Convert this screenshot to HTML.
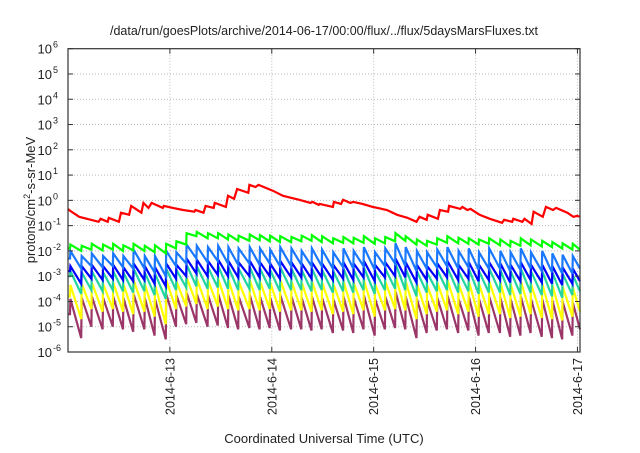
<!DOCTYPE html>
<html><head><meta charset="utf-8"><style>
body{margin:0;background:#fff}
svg text{font-family:"Liberation Sans",sans-serif;fill:#222}
</style></head><body>
<svg id="chart" width="640" height="448" viewBox="0 0 640 448" xmlns="http://www.w3.org/2000/svg">
<text x="324" y="35" font-size="12.5" text-anchor="middle">/data/run/goesPlots/archive/2014-06-17/00:00/flux/../flux/5daysMarsFluxes.txt</text>
<text transform="translate(35,200) rotate(-90)" font-size="13" text-anchor="middle">protons/cm<tspan dy="-5" font-size="9">2</tspan><tspan dy="5">-s-sr-MeV</tspan></text>
<text x="324" y="443" font-size="13" text-anchor="middle">Coordinated Universal Time (UTC)</text>
<g id="grid"></g>
<g id="series"></g>
<rect x="68" y="48.7" width="512" height="303.3" fill="none" stroke="#333" stroke-width="1.2"/>
<g id="axes"></g>
</svg>
<script>
const xTickDays=[1,2,3,4,5];
const xTickLabels=["2014-6-13","2014-6-14","2014-6-15","2014-6-16","2014-6-17"];
const yTickExps=[6,5,4,3,2,1,0,-1,-2,-3,-4,-5,-6];
const redTimes=[0,0.01,0.11,0.30,0.32,0.39,0.40,0.50,0.52,0.60,0.62,0.72,0.74,0.79,0.82,0.93,0.94,1.03,1.13,1.24,1.25,1.33,1.35,1.43,1.44,1.55,1.57,1.63,1.66,1.77,1.78,1.84,1.87,2.01,2.11,2.27,2.38,2.40,2.46,2.47,2.60,2.61,2.68,2.70,2.77,2.80,2.89,2.99,3.13,3.23,3.33,3.42,3.45,3.52,3.53,3.63,3.65,3.73,3.74,3.85,3.87,3.92,3.95,4.04,4.14,4.26,4.28,4.36,4.37,4.46,4.48,4.55,4.57,4.66,4.69,4.76,4.79,4.90,4.96,5.00,5.02];
const redValues=[-0.34,-0.38,-0.65,-0.85,-0.73,-0.85,-0.69,-0.85,-0.49,-0.57,-0.22,-0.49,-0.10,-0.30,-0.10,-0.30,-0.22,-0.30,-0.38,-0.45,-0.38,-0.49,-0.22,-0.30,-0.10,-0.26,0.18,0.06,0.45,0.30,0.61,0.53,0.61,0.38,0.18,0.02,-0.10,-0.06,-0.18,-0.14,-0.26,-0.06,-0.14,0.02,-0.10,-0.06,-0.14,-0.26,-0.38,-0.57,-0.69,-0.85,-0.65,-0.77,-0.57,-0.73,-0.38,-0.45,-0.22,-0.34,-0.26,-0.38,-0.34,-0.57,-0.73,-0.89,-0.77,-0.85,-0.73,-0.85,-0.73,-0.93,-0.45,-0.65,-0.26,-0.38,-0.30,-0.49,-0.65,-0.61,-0.65];
const toothTimes=[0.02,0.13,0.23,0.34,0.44,0.54,0.64,0.75,0.85,0.96,1.06,1.16,1.26,1.37,1.47,1.57,1.67,1.78,1.88,1.98,2.08,2.19,2.29,2.39,2.49,2.60,2.70,2.80,2.90,3.01,3.11,3.21,3.31,3.42,3.52,3.62,3.72,3.83,3.93,4.03,4.13,4.24,4.34,4.44,4.54,4.65,4.75,4.85,4.95];
const greenStart=-1.9;
const greenPeaks=[-1.75,-1.8,-1.72,-1.75,-1.72,-1.78,-1.72,-1.8,-1.78,-1.72,-1.62,-1.3,-1.25,-1.3,-1.3,-1.35,-1.4,-1.35,-1.38,-1.4,-1.42,-1.45,-1.4,-1.38,-1.42,-1.5,-1.45,-1.48,-1.42,-1.5,-1.45,-1.3,-1.42,-1.55,-1.6,-1.5,-1.42,-1.48,-1.5,-1.55,-1.5,-1.55,-1.6,-1.5,-1.55,-1.6,-1.65,-1.7,-1.72];
const greenTroughs=[-2.0,-1.95,-1.98,-1.95,-2.0,-1.98,-2.0,-2.05,-2.1,-1.9,-1.75,-1.42,-1.5,-1.5,-1.55,-1.6,-1.6,-1.58,-1.62,-1.65,-1.65,-1.62,-1.6,-1.65,-1.7,-1.68,-1.7,-1.68,-1.72,-1.7,-1.62,-1.6,-1.75,-1.8,-1.75,-1.68,-1.7,-1.72,-1.75,-1.72,-1.78,-1.82,-1.8,-1.78,-1.82,-1.85,-1.9,-1.95,-1.95];
const lblueStart=-2.3;
const lbluePeaks=[-2.0,-2.2,-2.1,-2.2,-2.1,-2.2,-1.95,-2.2,-2.2,-2.0,-2.05,-1.75,-1.8,-1.85,-1.8,-1.85,-1.9,-1.85,-1.9,-1.95,-1.85,-1.9,-2.0,-1.9,-1.95,-2.05,-1.9,-2.0,-1.85,-2.05,-1.9,-1.7,-1.85,-2.0,-2.05,-1.95,-1.85,-2.0,-1.9,-2.05,-1.9,-2.0,-2.05,-1.9,-2.05,-2.0,-2.1,-2.15,-2.2];
const lblueTroughs=[-2.7,-2.6,-2.65,-2.6,-2.65,-2.7,-2.7,-2.85,-3.0,-2.6,-2.5,-2.3,-2.45,-2.4,-2.5,-2.55,-2.5,-2.55,-2.5,-2.6,-2.6,-2.55,-2.6,-2.6,-2.7,-2.65,-2.7,-2.6,-2.75,-2.6,-2.5,-2.6,-2.8,-2.7,-2.65,-2.6,-2.7,-2.65,-2.75,-2.7,-2.7,-2.8,-2.75,-2.7,-2.8,-2.85,-2.9,-2.9,-2.7];
const blueStart=-2.8;
const bluePeaks=[-2.6,-2.6,-2.55,-2.6,-2.55,-2.65,-2.5,-2.6,-2.65,-2.5,-2.55,-2.3,-2.35,-2.4,-2.35,-2.4,-2.45,-2.4,-2.45,-2.5,-2.4,-2.45,-2.5,-2.45,-2.5,-2.55,-2.45,-2.5,-2.4,-2.55,-2.45,-2.3,-2.45,-2.55,-2.6,-2.5,-2.4,-2.55,-2.45,-2.55,-2.45,-2.5,-2.55,-2.45,-2.55,-2.55,-2.6,-2.65,-2.7];
const blueTroughs=[-3.3,-3.1,-3.15,-3.1,-3.15,-3.2,-3.15,-3.3,-3.4,-3.1,-3.0,-2.9,-3.0,-2.95,-3.0,-3.05,-3.0,-3.05,-3.0,-3.1,-3.05,-3.05,-3.1,-3.05,-3.15,-3.1,-3.15,-3.05,-3.2,-3.05,-3.0,-3.05,-3.25,-3.15,-3.1,-3.05,-3.15,-3.1,-3.2,-3.15,-3.15,-3.25,-3.2,-3.15,-3.25,-3.3,-3.35,-3.3,-3.2];
const tealStart=-3.0;
const tealPeaks=[-2.8,-2.85,-2.8,-2.85,-2.8,-2.85,-2.7,-2.85,-2.9,-2.7,-2.75,-2.55,-2.6,-2.65,-2.6,-2.65,-2.7,-2.65,-2.7,-2.75,-2.65,-2.7,-2.75,-2.7,-2.75,-2.8,-2.7,-2.75,-2.65,-2.8,-2.7,-2.5,-2.7,-2.8,-2.85,-2.75,-2.65,-2.8,-2.7,-2.8,-2.7,-2.75,-2.8,-2.7,-2.8,-2.8,-2.85,-2.9,-2.95];
const tealTroughs=[-3.7,-3.55,-3.6,-3.55,-3.6,-3.65,-3.6,-3.75,-3.9,-3.55,-3.45,-3.4,-3.5,-3.45,-3.5,-3.55,-3.5,-3.55,-3.5,-3.6,-3.55,-3.55,-3.6,-3.55,-3.65,-3.6,-3.65,-3.55,-3.7,-3.55,-3.5,-3.55,-3.8,-3.65,-3.6,-3.55,-3.65,-3.6,-3.7,-3.65,-3.65,-3.75,-3.7,-3.65,-3.75,-3.8,-3.85,-3.75,-3.6];
const yellowStart=-3.8;
const yellowPeaks=[-3.35,-3.3,-3.25,-3.3,-3.25,-3.3,-3.15,-3.3,-3.35,-3.15,-3.2,-3.05,-3.1,-3.15,-3.1,-3.15,-3.2,-3.15,-3.2,-3.25,-3.15,-3.2,-3.25,-3.2,-3.25,-3.3,-3.2,-3.25,-3.15,-3.3,-3.2,-3.0,-3.2,-3.3,-3.35,-3.25,-3.15,-3.3,-3.2,-3.3,-3.2,-3.25,-3.3,-3.2,-3.3,-3.3,-3.35,-3.4,-3.45];
const yellowTroughs=[-4.7,-4.3,-4.4,-4.3,-4.4,-4.5,-4.4,-4.6,-4.9,-4.3,-4.2,-4.1,-4.3,-4.2,-4.3,-4.35,-4.3,-4.35,-4.3,-4.4,-4.35,-4.35,-4.4,-4.35,-4.5,-4.4,-4.5,-4.35,-4.6,-4.35,-4.3,-4.35,-4.7,-4.5,-4.4,-4.35,-4.5,-4.4,-4.6,-4.5,-4.5,-4.65,-4.6,-4.5,-4.65,-4.7,-4.75,-4.6,-4.4];
const purpleStart=-4.5;
const purplePeaks=[-3.9,-3.85,-3.8,-3.85,-3.8,-3.85,-3.7,-3.85,-3.9,-3.7,-3.75,-3.65,-3.7,-3.75,-3.7,-3.75,-3.8,-3.75,-3.8,-3.85,-3.75,-3.8,-3.85,-3.8,-3.85,-3.9,-3.8,-3.85,-3.75,-3.9,-3.8,-3.6,-3.8,-3.9,-3.95,-3.85,-3.75,-3.9,-3.8,-3.9,-3.8,-3.85,-3.9,-3.8,-3.9,-3.9,-3.95,-4.0,-4.05];
const purpleTroughs=[-5.45,-5.0,-5.1,-5.0,-5.1,-5.2,-5.1,-5.35,-5.5,-5.0,-4.9,-4.85,-5.0,-4.95,-5.05,-5.1,-5.05,-5.1,-5.05,-5.15,-5.1,-5.1,-5.15,-5.1,-5.25,-5.15,-5.25,-5.1,-5.35,-5.1,-5.05,-5.1,-5.45,-5.25,-5.15,-5.1,-5.25,-5.15,-5.35,-5.25,-5.25,-5.4,-5.35,-5.25,-5.4,-5.45,-5.5,-5.35,-5.1];

const NS="http://www.w3.org/2000/svg";
const X0=68,X1=580,Y0=48.7,Y1=352,DMAX=5.025;
function xs(d){return X0+d/DMAX*(X1-X0);}
function ys(v){return Y0+(6-v)/12*(Y1-Y0);}
function mk(tag,attrs,parent){const e=document.createElementNS(NS,tag);for(const k in attrs)e.setAttribute(k,attrs[k]);parent.appendChild(e);return e;}
const grid=document.getElementById('grid'),axes=document.getElementById('axes'),ser=document.getElementById('series');
yTickExps.forEach(v=>{
  const y=ys(v);
  if(v<6&&v>-6){const g=mk('line',{x1:X0,x2:X1,y1:y,y2:y,stroke:'#bbb','stroke-dasharray':'1,2','stroke-width':1},grid);
  
  }
  const t1=mk('line',{x1:X0,x2:X0+5,y1:y,y2:y,stroke:'#333'},axes);
  
  
  const t2=mk('line',{x1:X1-5,x2:X1,y1:y,y2:y,stroke:'#333'},axes);
  
  
  const tx=mk('text',{x:X0-16,y:y+5,'font-size':13,'text-anchor':'end'},axes);
  
  
  tx.textContent='10';
  const sp=mk('tspan',{x:X0-16+1,dy:-6,'font-size':9,'text-anchor':'start'},tx);sp.textContent=String(v);
});
xTickDays.forEach((d,i)=>{
  const x=xs(d);
  const g=mk('line',{x1:x,x2:x,y1:Y0,y2:Y1,stroke:'#bbb','stroke-dasharray':'1,2'},grid);
  
  
  const t1=mk('line',{x1:x,x2:x,y1:Y1-5,y2:Y1,stroke:'#333'},axes);
  
  
  const t2=mk('line',{x1:x,x2:x,y1:Y0,y2:Y0+5,stroke:'#333'},axes);
  
  
  const tx=mk('text',{transform:`translate(${x+4.5},${Y1+6}) rotate(-90)`,'font-size':12.5,'text-anchor':'end'},axes);
  
  
  tx.textContent=xTickLabels[i];
});
function tooth(start,peaks,troughs){
  const pts=[[0,start]];
  toothTimes.forEach((t,i)=>{
    const prev=i===0?start:troughs[i-1];
    pts.push([t,prev]);pts.push([t+0.004,peaks[i]]);
  });
  pts.push([DMAX,troughs[troughs.length-1]]);
  return pts;
}
function draw(pts,color,name){
  const p=mk('polyline',{points:pts.map(q=>xs(q[0]).toFixed(1)+','+ys(q[1]).toFixed(1)).join(' '),fill:'none',stroke:color,'stroke-width':2.2,'stroke-linejoin':'miter'},ser);
  
  
}
draw(tooth(purpleStart,purplePeaks,purpleTroughs),'#9b3768','series-purple');
draw(tooth(yellowStart,yellowPeaks,yellowTroughs),'#ffff00','series-yellow');
draw(tooth(tealStart,tealPeaks,tealTroughs),'#22d4a0','series-teal');
draw(tooth(blueStart,bluePeaks,blueTroughs),'#0000ff','series-blue');
draw(tooth(lblueStart,lbluePeaks,lblueTroughs),'#1a78ff','series-light-blue');
draw(tooth(greenStart,greenPeaks,greenTroughs),'#00ff00','series-green');
draw(redTimes.map((t,i)=>[t,redValues[i]]),'#ff0000','series-red');
</script>
</body></html>
